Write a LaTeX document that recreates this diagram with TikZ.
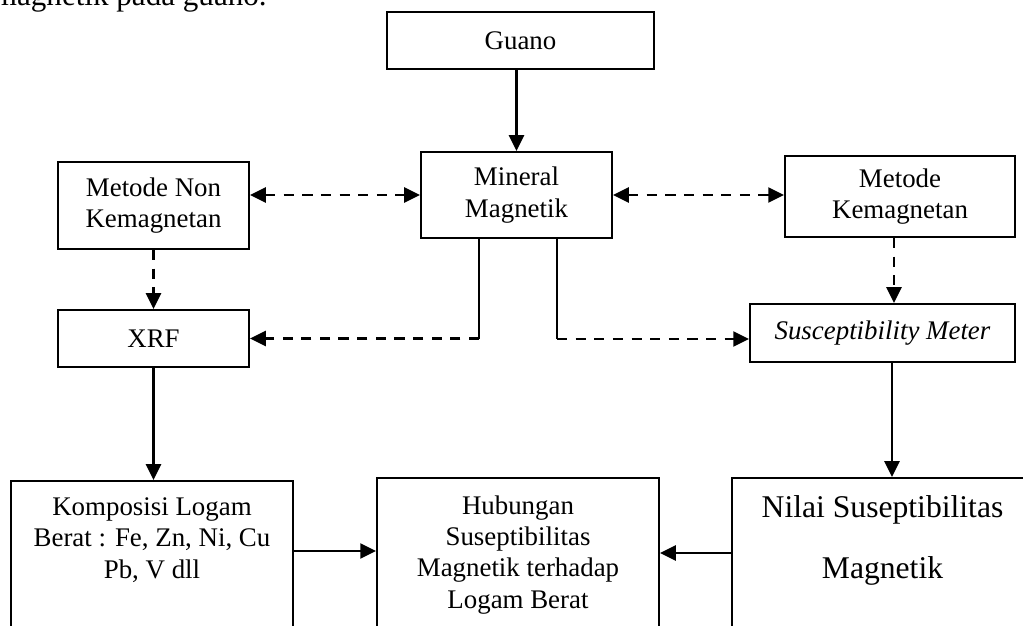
\documentclass[tikz,border=0pt]{standalone}
\usepackage{fontspec}
\setmainfont{Liberation Serif}
\usetikzlibrary{arrows.meta,calc}
\begin{document}
\begin{tikzpicture}[x=0.02cm,y=-0.02cm,
  box/.style={draw,line width=1.1pt,inner sep=0pt,align=center,font=\fontsize{15.3}{17.9}\selectfont},
  arr/.style={line width=1.5pt,-{Triangle[length=9pt,width=8.5pt]}},
  darr/.style={arr,dash pattern=on 5.8pt off 4.8pt},
  ddarr/.style={line width=1.5pt,dash pattern=on 5.8pt off 4.8pt,{Triangle[length=9pt,width=8.5pt]}-{Triangle[length=9pt,width=8.5pt]}},
  thinline/.style={line width=0.8pt},
  lbl/.style={inner sep=0pt,align=center,font=\fontsize{15.3}{17.9}\selectfont}]
\useasboundingbox (0,0) rectangle (1023,625);
\clip (0,0) rectangle (1023,625);

% cropped line of body text above the figure
\node[inner sep=0pt,anchor=base east,font=\fontsize{17.7}{20}\selectfont] (topline) at (267,6) {magnetik pada guano.};

% boxes
\node[box,minimum width=5.34cm,minimum height=1.14cm] (guano) at (520.5,40.5) {Guano};
\node[box,minimum width=3.82cm,minimum height=1.72cm] (mineral) at (516.5,195) {Mineral\\Magnetik};
\node[box,minimum width=3.82cm,minimum height=1.74cm] (nonk) at (153.5,205.5) {Metode Non\\Kemagnetan};
\node[box,minimum width=4.6cm,minimum height=1.62cm] (kem) at (900,196.5) {Metode\\Kemagnetan};
\node[box,minimum width=3.82cm,minimum height=1.14cm] (xrf) at (153.5,338.5) {XRF};
\node[box,minimum width=5.3cm,minimum height=1.16cm] (sm) at (882.5,333) {\textit{Susceptibility Meter}};

\node[box,minimum width=5.64cm,minimum height=4cm,anchor=north] (komp) at (152,480) {};
\node[box,minimum width=5.64cm,minimum height=4cm,anchor=north] (hub) at (518,477) {};
\node[box,minimum width=6.02cm,minimum height=4cm,anchor=north] (nilai) at (882.5,477) {};

\node[lbl,anchor=north] (kompt) at (152,497) {Komposisi Logam\\Berat : Fe, Zn, Ni, Cu\\Pb, V dll};
\node[lbl,anchor=north] (hubt) at (518,495) {Hubungan\\Suseptibilitas\\Magnetik terhadap\\Logam Berat};
\node[lbl,anchor=north,font=\fontsize{18}{34.6}\selectfont] (nilait) at (882.5,495) {Nilai Suseptibilitas\\Magnetik};

% helper coordinates
\coordinate (k1) at ($(kem.south)+(-6,0)$);
\coordinate (s1) at ($(sm.south)+(9.5,0)$);
\coordinate (m1) at ($(mineral.south)+(-37.5,0)$);
\coordinate (m2) at (m1 |- xrf.east);
\coordinate (m3) at ($(mineral.south)+(40.5,0)$);
\coordinate (y339) at (0,339);
\coordinate (m4) at (m3 |- y339);
\coordinate (y551) at (0,551);
\coordinate (y553) at (0,553);

% connectors
\draw[arr] (guano.south -| mineral.north) -- (mineral.north);
\draw[ddarr] (nonk.east |- mineral.west) -- (mineral.west);
\draw[ddarr] (mineral.east) -- (mineral.east -| kem.west);
\draw[darr] (nonk.south) -- (xrf.north);
\draw[darr] (k1) -- (k1 |- sm.north);
\draw[thinline] (m1) -- (m2);
\draw[darr] (m2) -- (xrf.east);
\draw[thinline] (m3) -- (m4);
\draw[darr] (m4) -- (m4 -| sm.west);
\draw[arr] (xrf.south) -- (xrf.south |- komp.north);
\draw[arr] (s1) -- (s1 |- nilai.north);
\draw[arr] (komp.east |- y551) -- (hub.west |- y551);
\draw[arr] (nilai.west |- y553) -- (hub.east |- y553);
\end{tikzpicture}
\end{document}
